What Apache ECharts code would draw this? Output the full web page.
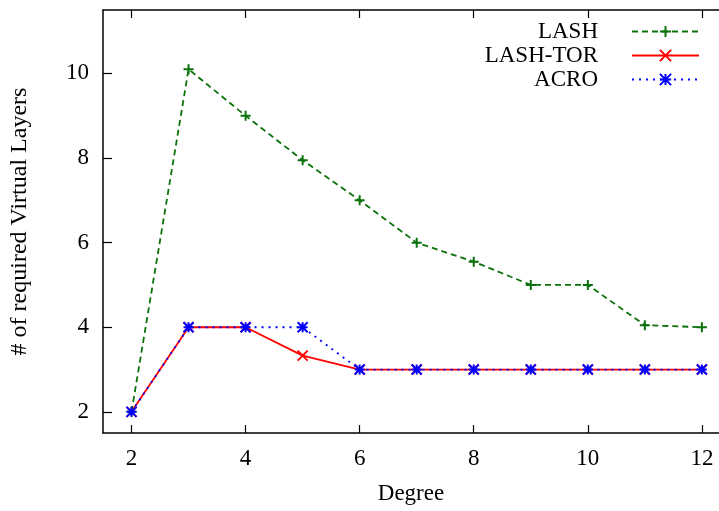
<!DOCTYPE html>
<html><head><meta charset="utf-8">
<script src="https://cdn.jsdelivr.net/npm/echarts@6/dist/echarts.min.js"></script>
<style>html,body{margin:0;padding:0;background:#fff}#c{width:719px;height:511px}</style>
</head><body><div id="c"></div>
<script>
const degrees = [2,3,4,5,6,7,8,9,10,11,12];
const lash = [2,10.1,9,7.95,7,6,5.55,5,5,4.05,4];
const lashTor = [2,4,4,3.33,3,3,3,3,3,3,3];
const acro = [2,4,4,4,3,3,3,3,3,3,3];
const xTicks = [2,4,6,8,10,12];
const yTicks = [2,4,6,8,10];

const font = 'Liberation Serif';
const plusPath = 'path://M5,0L5,10M0,5L10,5';
const crossPath = 'path://M0,0L10,10M10,0L0,10';
const starPath = 'path://M0,0L10,10M10,0L0,10M5,0L5,10M0,5L10,5';

function pairs(ys){ return degrees.map((d,i)=>[d, ys[i]]); }
function mk(name, ys, color, type, sym){
  return {
    name, type:'line', data: pairs(ys), symbol: sym, symbolSize: 10,
    lineStyle:{color, width:1.8, type},
    itemStyle:{color:'none', borderColor: color, borderWidth:2},
    emphasis:{disabled:true}, animation:false
  };
}
const chart = echarts.init(document.getElementById('c'));
const axisCommon = {
  axisLine:{show:true, lineStyle:{color:'#000', width:1.5}},
  splitLine:{show:false},
};
chart.setOption({
  animation:false,
  grid:{left:103, top:10, right:0, height:423, containLabel:false},
  legend:{
    orient:'vertical', right:14, top:15, align:'right',
    itemWidth:67, itemHeight:14, itemGap:1,
    textStyle:{fontFamily:font, fontSize:23, color:'#000', padding:[0,29,0,0]},
    data:['LASH','LASH-TOR','ACRO']
  },
  xAxis:[{
    type:'value', min:1.5, max:12.3, position:'bottom',
    name:'Degree', nameLocation:'middle', nameGap:49,
    nameTextStyle:{fontFamily:font, fontSize:23, color:'#000'},
    ...axisCommon,
    axisTick:{show:true, inside:true, length:8, lineStyle:{color:'#000', width:1.2}, customValues:xTicks},
    axisLabel:{fontFamily:font, fontSize:23, color:'#000', margin:14, customValues:xTicks}
  },{
    type:'value', min:1.5, max:12.3, position:'top',
    ...axisCommon,
    axisTick:{show:true, inside:true, length:8, lineStyle:{color:'#000', width:1.2}, customValues:xTicks},
    axisLabel:{show:false}
  }],
  yAxis:[{
    type:'value', min:1.5, max:11.5, position:'left',
    name:'# of required Virtual Layers', nameLocation:'middle', nameGap:71, nameRotate:90,
    nameTextStyle:{fontFamily:font, fontSize:24, color:'#000'},
    ...axisCommon,
    axisTick:{show:true, inside:true, length:9, lineStyle:{color:'#000', width:1.2}, customValues:yTicks},
    axisLabel:{fontFamily:font, fontSize:23, color:'#000', margin:14, customValues:yTicks}
  }],
  series:[
    mk('LASH', lash, '#0b720b', [6,4], plusPath),
    mk('LASH-TOR', lashTor, '#ff0000', 'solid', crossPath),
    mk('ACRO', acro, '#0000ff', [2,5], starPath)
  ]
});
</script></body></html>
